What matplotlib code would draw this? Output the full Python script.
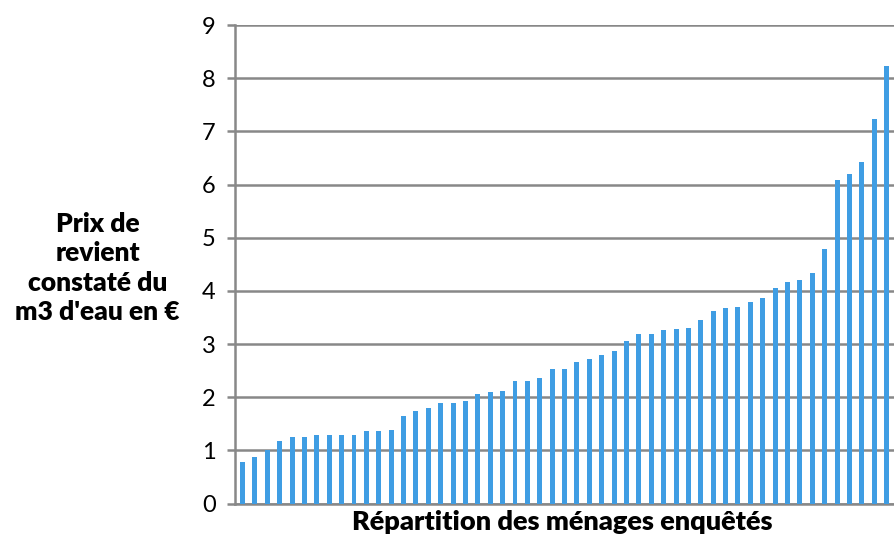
import matplotlib.pyplot as plt

# prix de revient par ménage (trié)
valeurs = [0.78, 0.88, 1.00, 1.17, 1.25, 1.25, 1.29, 1.29, 1.29, 1.29,
           1.36, 1.36, 1.38, 1.65, 1.75, 1.80, 1.89, 1.89, 1.92, 2.06,
           2.09, 2.11, 2.31, 2.31, 2.36, 2.53, 2.53, 2.66, 2.71, 2.79,
           2.86, 3.05, 3.18, 3.18, 3.26, 3.29, 3.31, 3.45, 3.63, 3.68,
           3.70, 3.79, 3.87, 4.06, 4.16, 4.21, 4.33, 4.78, 6.09, 6.20,
           6.43, 7.23, 8.24]
menages = list(range(len(valeurs)))
yticks = [0, 1, 2, 3, 4, 5, 6, 7, 8, 9]

plt.rcParams['font.family'] = ['Lato', 'DejaVu Sans']

fig = plt.figure(figsize=(8.94, 5.36), dpi=100)
ax = fig.add_axes([0.263, 0.0606, 0.737, 0.8925])

ax.bar(menages, valeurs, width=0.4, color='#3f9de3', zorder=3)

ax.set_ylim(0, 9)
ax.set_xlim(-0.6, 52.6)
ax.set_yticks(yticks)
ax.set_yticklabels([str(v) for v in yticks], fontsize=17)
ax.set_xticks([])
ax.yaxis.grid(True, color='#888888', linewidth=1.8, zorder=0)
ax.tick_params(axis='y', length=6, width=1.8, color='#888888', pad=8)

for s in ['top', 'right']:
    ax.spines[s].set_visible(False)
ax.spines['left'].set_color('#888888')
ax.spines['left'].set_linewidth(1.8)
ax.spines['bottom'].set_color('#888888')
ax.spines['bottom'].set_linewidth(1.8)

fig.text(0.109, 0.50, "Prix de\nrevient\nconstaté du\nm3 d'eau en €",
         ha='center', va='center', fontsize=19, fontweight='heavy',
         linespacing=1.28)
fig.text(0.629, 0.026, 'Répartition des ménages enquêtés',
         ha='center', va='center', fontsize=19.5, fontweight='heavy')

fig.savefig('out.png', dpi=100)
